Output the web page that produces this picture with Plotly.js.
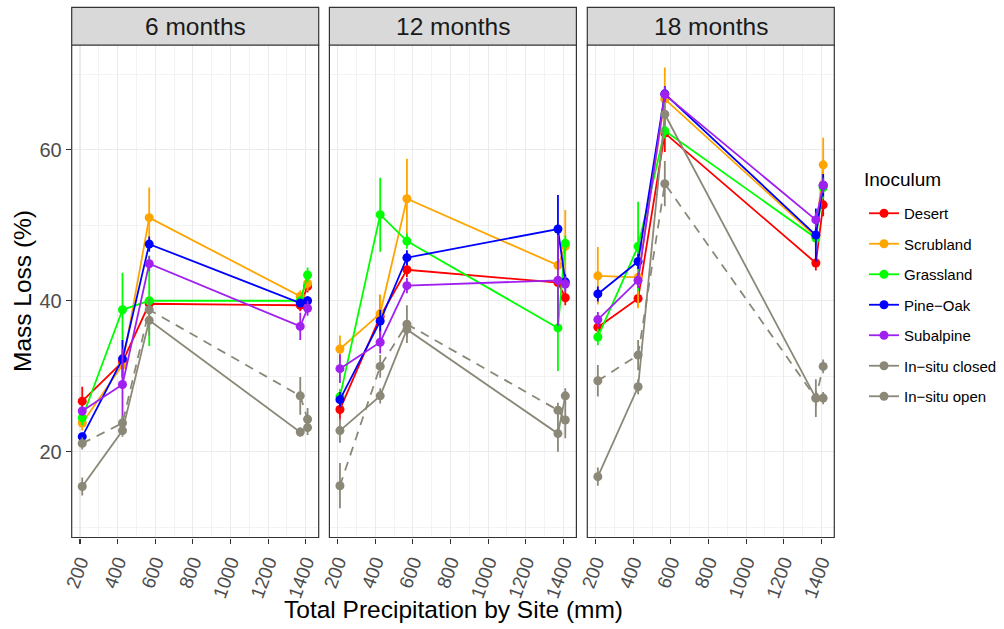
<!DOCTYPE html>
<html>
<head>
<meta charset="utf-8">
<script src="https://cdn.plot.ly/plotly-3.0.1.min.js"></script>
<style>
  html, body { margin: 0; padding: 0; background: #fff; }
  #chart { width: 1004px; height: 629px; }
</style>
</head>
<body>
<div id="chart"></div>
<script>
// Total precipitation at each site (mm)
const precip = [212, 426, 568, 1371, 1410];

const panels = ["6 months", "12 months", "18 months"];
const inocula = ["Desert", "Scrubland", "Grassland", "Pine\u2212Oak", "Subalpine", "In\u2212situ closed", "In\u2212situ open"];
const colors = ["#FF0000", "#FFA500", "#00FF00", "#0000FF", "#A020F0", "#8B8878", "#8B8878"];
const dashes = ["solid", "solid", "solid", "solid", "solid", "9px,7px", "solid"];

// Mean mass loss (%) per inoculum, one row per inoculum, columns follow precip
const loss6 = [
  [26.7, 31.9, 39.6, 39.4, 41.9],
  [23.8, 31.5, 51.0, 40.6, 42.3],
  [24.5, 38.8, 40.0, 40.0, 43.4],
  [22.0, 32.3, 47.5, 39.7, 40.0],
  [25.4, 28.9, 44.9, 36.6, 39.0],
  [21.1, 23.8, 38.8, 27.4, 24.3],
  [15.4, 22.8, 37.4, 22.6, 23.2]
];
const err6 = [
  [1.9, 1.0, 0.5, 0.8, 0.8],
  [1.0, 1.5, 4.0, 0.8, 1.0],
  [1.0, 4.9, 6.0, 0.5, 1.0],
  [0.5, 2.5, 1.0, 0.5, 0.6],
  [0.6, 4.7, 1.0, 1.8, 1.0],
  [0.8, 1.0, 1.5, 2.5, 1.5],
  [1.2, 0.8, 2.0, 0.6, 1.0]
];
const loss12 = [
  [25.6, 37.9, 44.1, 42.4, 40.4],
  [33.6, 38.3, 53.5, 44.7, 47.2],
  [27.3, 51.4, 47.9, 36.4, 47.6],
  [26.9, 37.3, 45.7, 49.5, 42.5],
  [31.0, 34.5, 42.0, 42.7, 42.2],
  [15.5, 31.3, 36.9, 25.5, 24.2],
  [22.8, 27.4, 36.2, 22.4, 27.4]
];
const err12 = [
  [1.5, 2.9, 1.0, 0.8, 1.0],
  [1.8, 2.5, 5.3, 5.0, 4.8],
  [1.0, 4.9, 1.0, 5.7, 1.0],
  [1.0, 1.5, 1.0, 4.5, 1.0],
  [1.9, 1.5, 1.0, 6.0, 1.0],
  [3.0, 1.5, 2.5, 1.0, 2.4],
  [1.6, 1.0, 1.0, 2.4, 1.0]
];
const loss18 = [
  [36.5, 40.3, 62.2, 45.0, 52.7],
  [43.3, 43.1, 66.7, 48.5, 58.0],
  [35.2, 47.2, 62.5, 48.3, 55.0],
  [40.9, 45.2, 67.4, 48.7, 55.3],
  [37.5, 42.7, 67.3, 50.7, 55.3],
  [29.4, 32.8, 55.5, 27.1, 31.3],
  [16.7, 28.6, 64.7, 27.1, 27.1]
];
const err18 = [
  [1.0, 1.0, 2.5, 1.0, 1.5],
  [3.8, 4.1, 4.2, 1.0, 3.6],
  [1.1, 5.9, 1.0, 1.0, 1.5],
  [1.0, 1.0, 1.0, 3.5, 1.5],
  [1.0, 1.0, 1.0, 1.0, 1.0],
  [2.1, 2.0, 3.0, 1.0, 0.9],
  [1.2, 1.0, 1.5, 2.5, 0.8]
];

const xTicks = [200, 400, 600, 800, 1000, 1200, 1400];
const yTicks = [20, 40, 60];

const lossByPanel = [loss6, loss12, loss18];
const errByPanel = [err6, err12, err18];

const W = 1004, H = 629;
const FONT = "Liberation Sans, Arial, Helvetica, sans-serif";

// panel geometry in pixels
const panelLeft = [71.7, 329.4, 587.3];
const panelWidth = 247;
const panelTop = 45, panelBottom = 537.5;
const stripH = 37.7;

const traces = [];

// legend entries (solid key for every inoculum)
inocula.forEach((name, k) => {
  traces.push({
    x: [null], y: [null], type: "scatter", mode: "lines+markers",
    name: name, legendgroup: "g" + k, showlegend: true,
    xaxis: "x", yaxis: "y",
    line: { color: colors[k], width: 1.8 },
    marker: { color: colors[k], size: 9 },
    hoverinfo: "skip"
  });
});

// data traces for each panel
for (let p = 0; p < 3; p++) {
  const xa = p === 0 ? "x" : "x" + (p + 1);
  const ya = p === 0 ? "y" : "y" + (p + 1);
  inocula.forEach((name, k) => {
    traces.push({
      x: precip, y: lossByPanel[p][k], type: "scatter", mode: "lines+markers",
      name: name, legendgroup: "g" + k, showlegend: false,
      xaxis: xa, yaxis: ya,
      line: { color: colors[k], width: 1.8, dash: dashes[k] },
      marker: { color: colors[k], size: 9 },
      error_y: { type: "data", array: errByPanel[p][k], visible: true,
                 color: colors[k], thickness: 1.8, width: 0 }
    });
  });
}

const layout = {
  width: W, height: H,
  margin: { l: 0, r: 0, t: 0, b: 0, autoexpand: false },
  paper_bgcolor: "#FFFFFF",
  plot_bgcolor: "#FFFFFF",
  font: { family: FONT, color: "#000" },
  showlegend: true,
  legend: {
    x: 864 / W, y: 1 - 197 / H, xanchor: "left", yanchor: "top",
    font: { size: 15, family: FONT, color: "#000" },
    tracegroupgap: 8,
    traceorder: "grouped",
    bgcolor: "rgba(0,0,0,0)"
  },
  shapes: [],
  annotations: []
};

const yDomain = [1 - panelBottom / H, 1 - panelTop / H];

for (let p = 0; p < 3; p++) {
  const sfx = p === 0 ? "" : String(p + 1);
  const xd = [panelLeft[p] / W, (panelLeft[p] + panelWidth) / W];
  layout["xaxis" + sfx] = {
    domain: xd, range: [155.9, 1469.1], anchor: "y" + sfx,
    tickvals: xTicks, ticktext: xTicks.map(String),
    tickangle: -70, ticks: "outside", ticklen: 5, tickwidth: 1.1, tickcolor: "#333333",
    tickfont: { size: 19, color: "#4D4D4D", family: FONT },
    showgrid: true, gridcolor: "#EBEBEB", gridwidth: 1.1,
    minor: { dtick: 200, tick0: 300, showgrid: true, gridcolor: "#EBEBEB", gridwidth: 0.6, ticks: "" },
    zeroline: false, showline: false, fixedrange: true
  };
  layout["yaxis" + sfx] = {
    domain: yDomain, range: [8.64, 73.87], anchor: "x" + sfx,
    tickvals: yTicks, ticktext: yTicks.map(String),
    ticks: p === 0 ? "outside" : "", ticklen: 5, tickwidth: 1.1, tickcolor: "#333333",
    showticklabels: p === 0,
    tickfont: { size: 20, color: "#4D4D4D", family: FONT },
    showgrid: true, gridcolor: "#EBEBEB", gridwidth: 1.1,
    minor: { dtick: 20, tick0: 10, showgrid: true, gridcolor: "#EBEBEB", gridwidth: 0.6, ticks: "" },
    zeroline: false, showline: false, fixedrange: true
  };

  // panel border
  layout.shapes.push({
    type: "rect", xref: "x" + sfx + " domain", yref: "y" + sfx + " domain",
    x0: 0, x1: 1, y0: 0, y1: 1,
    line: { color: "#333333", width: 1.2 }, fillcolor: "rgba(0,0,0,0)", layer: "above"
  });
  // facet strip
  layout.shapes.push({
    type: "rect", xref: "x" + sfx + " domain", yref: "paper",
    x0: 0, x1: 1, y0: 1 - panelTop / H, y1: 1 - (panelTop - stripH) / H,
    line: { color: "#333333", width: 1.2 }, fillcolor: "#D9D9D9", layer: "above"
  });
  layout.annotations.push({
    text: panels[p], xref: "paper", yref: "paper",
    x: (panelLeft[p] + panelWidth / 2) / W, y: 1 - (panelTop - stripH / 2) / H,
    xanchor: "center", yanchor: "middle", showarrow: false,
    font: { size: 24.5, color: "#1A1A1A", family: FONT }
  });
}

// legend heading
layout.annotations.push({
  text: "Inoculum", xref: "paper", yref: "paper",
  x: 862 / W, y: 1 - 180 / H, xanchor: "left", yanchor: "middle", showarrow: false,
  font: { size: 19, color: "#000", family: FONT }
});

// axis titles
layout.annotations.push({
  text: "Total Precipitation by Site (mm)", xref: "paper", yref: "paper",
  x: 453 / W, y: 1 - 609 / H, xanchor: "center", yanchor: "middle", showarrow: false,
  font: { size: 24.5, color: "#000", family: FONT }
});
layout.annotations.push({
  text: "Mass Loss (%)", xref: "paper", yref: "paper",
  x: 22 / W, y: 1 - 291 / H, xanchor: "center", yanchor: "middle", showarrow: false,
  textangle: -90,
  font: { size: 24.5, color: "#000", family: FONT }
});

Plotly.newPlot("chart", traces, layout, { displayModeBar: false, staticPlot: true });
</script>
</body>
</html>
